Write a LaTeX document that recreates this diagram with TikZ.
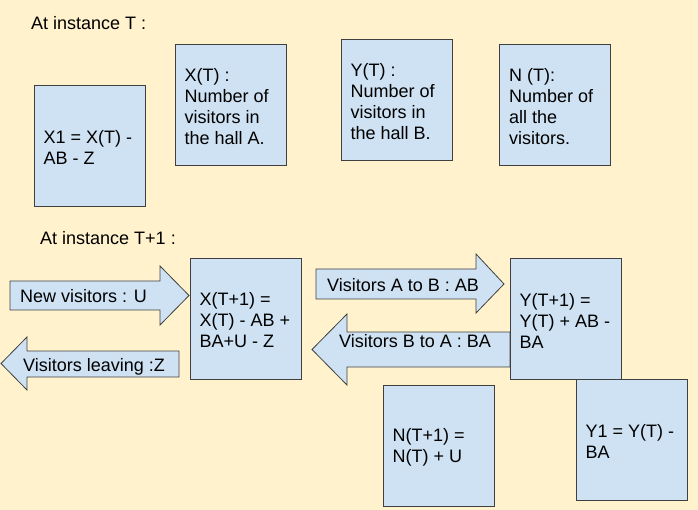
\documentclass[tikz,border=0pt]{standalone}
\usepackage{fontspec}
\setmainfont{Liberation Sans}
\definecolor{bgc}{HTML}{FFF2CC}
\definecolor{boxc}{HTML}{CFE2F3}
\definecolor{edgec}{HTML}{404040}
\begin{document}
\begin{tikzpicture}[x=1pt,y=-1pt,
  every node/.style={font=\fontsize{18}{21}\selectfont},
  box/.style={draw=edgec, fill=boxc, line width=1pt, minimum width=111pt, minimum height=121pt, inner sep=0pt},
  btext/.style={anchor=west, inner sep=0pt, align=left},
  blockarrow/.style={draw=edgec, fill=boxc, line width=0.8pt, line join=miter},
  lbl/.style={anchor=base west, inner sep=0pt}]
\fill[bgc] (0,0) rectangle (698,510);
\useasboundingbox (0,0) rectangle (698,510);

% top row
\node[lbl] (t0) at (31,30) {At instance T :};
\node[box] (x1) at (89.5,146.5) {};
\node[btext] (x1t) at ([xshift=10pt,yshift=-1pt]x1.west) {X1 = X(T) -\\AB - Z};
\node[box] (xt) at (230.5,105.5) {};
\node[btext] (xtt) at ([xshift=10pt,yshift=-1pt]xt.west) {X(T) :\\Number of\\visitors in\\the hall A.};
\node[box] (yt) at (396.5,100.5) {};
\node[btext] (ytt) at ([xshift=10pt,yshift=-1pt]yt.west) {Y(T) :\\Number of\\visitors in\\the hall B.};
\node[box] (nt) at (555,105.5) {};
\node[btext] (ntt) at ([xshift=10pt,yshift=-1pt]nt.west) {N (T):\\Number of\\all the\\visitors.};

% bottom
\node[lbl] (t1) at (40,245) {At instance T+1 :};

% block arrows
\draw[blockarrow] (10,281) -- (160,281) -- (160,266) -- (189,295.5) -- (160,325) -- (160,310) -- (10,310) -- cycle;
\node[lbl] (lu) at (20,302) {New visitors : U};

\draw[blockarrow] (179,351) -- (27,351) -- (27,337) -- (1,363.5) -- (27,390) -- (27,377) -- (179,377) -- cycle;
\node[lbl] (lz) at (23,371) {Visitors leaving :Z};

\draw[blockarrow] (316,269) -- (476,269) -- (476,254) -- (504,284) -- (476,313) -- (476,299) -- (316,299) -- cycle;
\node[lbl] (lab) at (327,291) {Visitors A to B : AB};

\draw[blockarrow] (510,332) -- (347,332) -- (347,314) -- (312,349.5) -- (347,385) -- (347,367) -- (510,367) -- cycle;
\node[lbl] (lba) at (339,347) {Visitors B to A : BA};

\node[box, minimum height=120pt] (xt1) at (245.5,319) {};
\node[btext] (xt1t) at ([xshift=10pt,yshift=-1pt]xt1.west) {X(T+1) =\\X(T) - AB +\\BA+U - Z};
\node[box, minimum height=120pt] (yt1) at (565.5,319) {};
\node[btext] (yt1t) at ([xshift=10pt,yshift=-1.5pt]yt1.west) {Y(T+1) =\\Y(T) + AB -\\BA};
\node[box] (nt1) at (438.5,445.5) {};
\node[btext] (nt1t) at ([xshift=10pt,yshift=-1.5pt]nt1.west) {N(T+1) =\\N(T) + U};
\node[box] (y1) at (631.5,439.5) {};
\node[btext] (y1t) at ([xshift=10pt,yshift=-2pt]y1.west) {Y1 = Y(T) -\\BA};
\end{tikzpicture}
\end{document}
